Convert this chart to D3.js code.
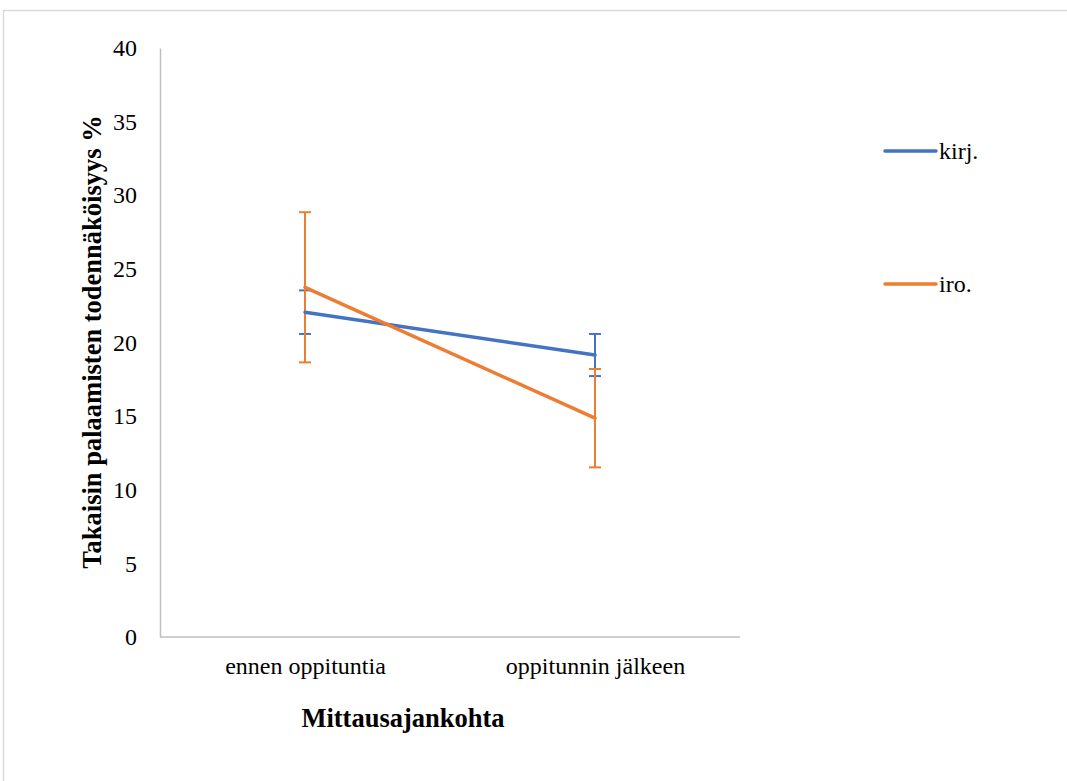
<!DOCTYPE html>
<html><head><meta charset="utf-8">
<script src="https://cdn.jsdelivr.net/npm/d3@7"></script>
<style>body{margin:0;background:#fff;}svg{display:block;}text{font-family:"Liberation Serif","Times New Roman",serif;fill:#000;}</style>
</head><body>
<script>
const categories = ["ennen oppituntia", "oppitunnin jälkeen"];
const seriesNames = ["kirj.", "iro."];
const kirjValues = [22.06, 19.15];
const kirjErrors = [1.48, 1.43];
const iroValues = [23.75, 14.86];
const iroErrors = [5.1, 3.34];
const yTicks = [0, 5, 10, 15, 20, 25, 30, 35, 40];
const colors = ["#4472C4", "#ED7D31"];

const W = 1067, H = 781;
const svg = d3.select("body").append("svg").attr("width", W).attr("height", H);
svg.append("rect").attr("x", 3.5).attr("y", 10.5).attr("width", W).attr("height", H)
  .attr("fill", "#fff").attr("stroke", "#d9d9d9").attr("stroke-width", 1.5);

const x0 = 160, x1 = 740, yTop = 48, yBot = 637;
const x = d3.scalePoint().domain(categories).range([x0, x1]).padding(0.5);
const y = d3.scaleLinear().domain([0, 40]).range([yBot, yTop]);

// axes
const yAxis = svg.append("g").attr("transform", `translate(${x0},0)`)
  .call(d3.axisLeft(y).tickValues(yTicks).tickSize(0).tickPadding(23));
yAxis.select(".domain").attr("stroke", "#bfbfbf").attr("stroke-width", 1.5);
yAxis.selectAll("text").style("font-size", "24px").style("font-family", "'Liberation Serif',serif").attr("fill", "#000");

const xAxis = svg.append("g").attr("transform", `translate(0,${yBot})`)
  .call(d3.axisBottom(x).tickSize(0).tickPadding(20));
xAxis.select(".domain").attr("stroke", "#bfbfbf").attr("stroke-width", 1.5)
  .attr("d", `M${x0},0H${x1}`);
xAxis.selectAll("text").style("font-size", "24px").style("font-family", "'Liberation Serif',serif").attr("fill", "#000");

// titles
svg.append("text").attr("transform", `translate(101,342) rotate(-90)`)
  .attr("text-anchor", "middle").style("font-size", "26.5px").style("font-weight", "bold")
  .text("Takaisin palaamisten todennäköisyys %");
svg.append("text").attr("x", 403).attr("y", 727).attr("text-anchor", "middle")
  .style("font-size", "26.5px").style("font-weight", "bold").text("Mittausajankohta");

const series = [
  {name: seriesNames[0], values: kirjValues, errors: kirjErrors, color: colors[0]},
  {name: seriesNames[1], values: iroValues, errors: iroErrors, color: colors[1]}
];

const line = d3.line().x((d, i) => x(categories[i])).y(d => y(d));

series.forEach(s => {
  const g = svg.append("g");
  s.values.forEach((v, i) => {
    const cx = x(categories[i]);
    const e = s.errors[i];
    g.append("line").attr("x1", cx).attr("x2", cx).attr("y1", y(v + e)).attr("y2", y(v - e))
      .attr("stroke", s.color).attr("stroke-width", 2);
    [v + e, v - e].forEach(val => {
      g.append("line").attr("x1", cx - 6).attr("x2", cx + 6).attr("y1", y(val)).attr("y2", y(val))
        .attr("stroke", s.color).attr("stroke-width", 2);
    });
  });
});
series.forEach(s => {
  svg.append("path").datum(s.values).attr("d", line).attr("fill", "none")
    .attr("stroke", s.color).attr("stroke-width", 3.5).attr("stroke-linecap", "round");
});

// legend
const legY = [151, 284];
series.forEach((s, i) => {
  svg.append("line").attr("x1", 885).attr("x2", 936).attr("y1", legY[i]).attr("y2", legY[i])
    .attr("stroke", s.color).attr("stroke-width", 3.5).attr("stroke-linecap", "round");
  svg.append("text").attr("x", 939).attr("y", legY[i] + 8).style("font-size", "24px").text(s.name);
});
</script>
</body></html>
